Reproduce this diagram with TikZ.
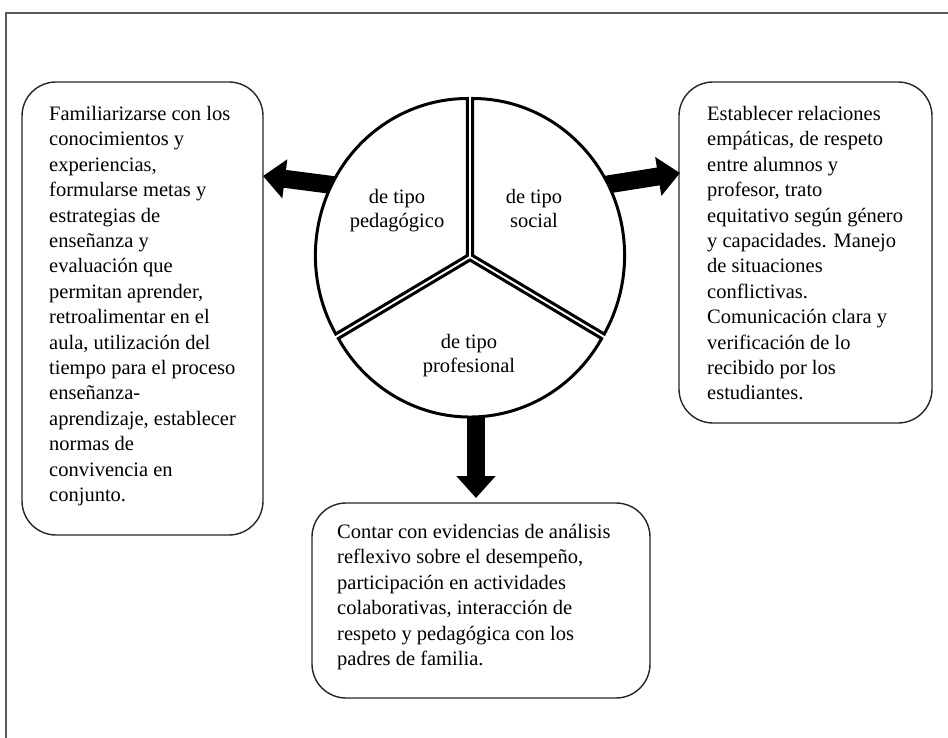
\documentclass[tikz,border=0pt]{standalone}
\usepackage{fontspec}
\setmainfont{Liberation Serif}
\usetikzlibrary{arrows.meta,calc}
\begin{document}
\begin{tikzpicture}[x=1pt,y=-1pt,
  box/.style={draw=black!85, line width=1.4pt, rounded corners=34pt, inner sep=0pt, fill=white},
  txt/.style={font=\fontsize{20.5}{25.4}\selectfont, align=left, anchor=north west, inner sep=0pt},
  lbl/.style={font=\fontsize{20.5}{24}\selectfont, align=center, inner sep=0pt},
  sector/.style={draw=black, line width=3pt, fill=white, line join=miter},
  blockarrow/.style={line width=18pt, -{Triangle[length=22pt,width=38pt]}},
  frame/.style={draw=black!65, line width=1.5pt}
]
\useasboundingbox (0,0) rectangle (948,738);
\draw[frame] (948,13) -- (6,13) -- (6,738);

% boxes
\node[box, minimum width=241pt, minimum height=453pt] (L) at (142.5,308.5) {};
\node[box, minimum width=253pt, minimum height=341pt] (R) at (805.5,252.5) {};
\node[box, minimum width=338pt, minimum height=195pt] (B) at (481,600.5) {};

\node[txt] (tL) at (49,106) {Familiarizarse con los\\
conocimientos y\\
experiencias,\\
formularse metas y\\
estrategias de\\
enseñanza y\\
evaluación que\\
permitan aprender,\\
retroalimentar en el\\
aula, utilización del\\
tiempo para el proceso\\
enseñanza-\\
aprendizaje, establecer\\
normas de\\
convivencia en\\
conjunto.};

\node[txt] (tR) at (707,106) {Establecer relaciones\\
empáticas, de respeto\\
entre alumnos y\\
profesor, trato\\
equitativo según género\\
y capacidades. Manejo\\
de situaciones\\
conflictivas.\\
Comunicación clara y\\
verificación de lo\\
recibido por los\\
estudiantes.};

\node[txt] (tB) at (337,524) {Contar con evidencias de análisis\\
reflexivo sobre el desempeño,\\
participación en actividades\\
colaborativas, interacción de\\
respeto y pedagógica con los\\
padres de familia.};

% arrows (tails hidden under the pie)
\coordinate (C) at (470,257);
\coordinate (aLs) at (340,186);
\coordinate (aLe) at (263,176);
\coordinate (aRs) at (598,186);
\coordinate (aRe) at (680,173);
\coordinate (aBs) at (476,400);
\coordinate (aBe) at (476,498);
\draw[blockarrow] (aLs) -- (aLe);
\draw[blockarrow] (aRs) -- (aRe);
\draw[blockarrow] (aBs) -- (aBe);

% pie sectors
\path (C) ++(210:3) coordinate (cP);
\path (C) ++(330:3) coordinate (cS);
\path (C) ++(90:3) coordinate (cF);
\draw[sector] (cP) -- ++(150:152 and 157) arc[start angle=150, end angle=270, x radius=152, y radius=157] -- cycle;
\draw[sector] (cS) -- ++(270:152 and 157) arc[start angle=270, end angle=390, x radius=152, y radius=157] -- cycle;
\draw[sector] (cF) -- ++(30:152 and 157) arc[start angle=30, end angle=150, x radius=152, y radius=157] -- cycle;

\node[lbl] (lP) at (397,211) {de tipo\\pedagógico};
\node[lbl] (lS) at (534,208) {de tipo\\social};
\node[lbl] (lF) at (469,356) {de tipo\\profesional};
\end{tikzpicture}
\end{document}
